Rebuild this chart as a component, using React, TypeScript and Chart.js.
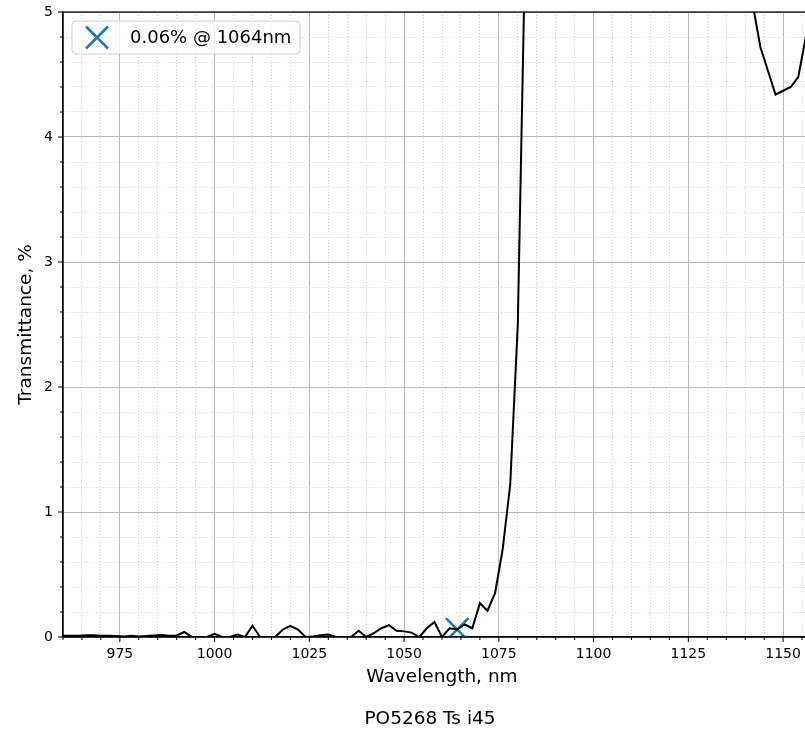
import React, { useEffect, useRef } from 'react';
import { Chart, registerables } from 'chart.js';

Chart.register(...registerables);

// ---- data ----
const wavelengths = [
  960, 962, 964, 966, 968, 970, 972, 974, 976, 978,
  980, 982, 984, 986, 988, 990, 992, 994, 996, 998,
  1000, 1002, 1004, 1006, 1008, 1010, 1012, 1014, 1016, 1018,
  1020, 1022, 1024, 1026, 1028, 1030, 1032, 1034, 1036, 1038,
  1040, 1042, 1044, 1046, 1048, 1050, 1052, 1054, 1056, 1058,
  1060, 1062, 1064, 1066, 1068, 1070, 1072, 1074, 1076, 1078,
  1080, 1082,
  1142, 1144, 1146, 1148, 1150, 1152, 1154, 1156, 1158,
];
const transmittance = [
  0.01, 0.01, 0.01, 0.015, 0.015, 0.01, 0.01, 0.008, 0.005, 0.01,
  0.005, 0.008, 0.012, 0.015, 0.01, 0.012, 0.04, 0.0, 0.0, 0.0,
  0.025, 0.0, 0.0, 0.02, 0.0, 0.09, 0.0, 0.0, 0.0, 0.06,
  0.09, 0.06, 0.0, 0.005, 0.015, 0.02, 0.0, 0.0, 0.0, 0.05,
  0.0, 0.03, 0.07, 0.095, 0.05, 0.045, 0.035, 0.0, 0.07, 0.12,
  0.0, 0.07, 0.06, 0.1, 0.07, 0.27, 0.21, 0.35, 0.7, 1.22,
  2.5, 5.6,
  5.06, 4.72, 4.53, 4.34, 4.37, 4.4, 4.48, 4.8, 5.3,
];
const markerWavelength = [1064];
const markerTransmittance = [0.06];
const xTickLabels = [975, 1000, 1025, 1050, 1075, 1100, 1125, 1150];
const yTickLabels = [0, 1, 2, 3, 4, 5];
const xTitle = 'Wavelength, nm';
const yTitle = 'Transmittance, %';
const figureTitle = 'PO5268 Ts i45';

const FONT = "'DejaVu Sans', 'Liberation Sans', sans-serif";
const MARKER_COLOR = '#1f77b4';

const isMajorX = (v: number) => xTickLabels.includes(Math.round(v)) && Math.abs(v - Math.round(v)) < 1e-6;
const isMajorY = (v: number) => yTickLabels.includes(Math.round(v)) && Math.abs(v - Math.round(v)) < 1e-6;

const zeroPad = (s: any) => {
  s.paddingTop = 0;
  s.paddingBottom = 0;
  s.paddingLeft = 0;
  s.paddingRight = 0;
};

const decorPlugin = {
  id: 'decor',
  afterDraw(chart: any) {
    const { ctx, chartArea: a, scales } = chart;
    const xs = scales.x;
    const ys = scales.y;
    ctx.save();
    // tick marks
    ctx.strokeStyle = '#000';
    ctx.lineWidth = 1;
    for (const t of xs.ticks) {
      const px = xs.getPixelForValue(t.value);
      const len = isMajorX(t.value) ? 5 : 3;
      ctx.beginPath();
      ctx.moveTo(px, a.bottom);
      ctx.lineTo(px, a.bottom + len);
      ctx.stroke();
    }
    for (const t of ys.ticks) {
      const py = ys.getPixelForValue(t.value);
      const len = isMajorY(t.value) ? 5 : 3;
      ctx.beginPath();
      ctx.moveTo(a.left, py);
      ctx.lineTo(a.left - len, py);
      ctx.stroke();
    }
    // frame
    ctx.lineWidth = 1.25;
    ctx.strokeRect(a.left, a.top, a.right - a.left, a.bottom - a.top);

    // legend
    const lx = a.left + 9;
    const ly = a.top + 9;
    const lw = 228;
    const lh = 33;
    ctx.beginPath();
    if (ctx.roundRect) ctx.roundRect(lx, ly, lw, lh, 4);
    else ctx.rect(lx, ly, lw, lh);
    ctx.fillStyle = 'rgba(255,255,255,0.8)';
    ctx.fill();
    ctx.strokeStyle = '#cccccc';
    ctx.lineWidth = 1;
    ctx.stroke();
    const mx = lx + 25;
    const my = ly + lh / 2;
    const h = 11;
    ctx.strokeStyle = MARKER_COLOR;
    ctx.lineWidth = 2.5;
    ctx.beginPath();
    ctx.moveTo(mx - h, my - h);
    ctx.lineTo(mx + h, my + h);
    ctx.moveTo(mx + h, my - h);
    ctx.lineTo(mx - h, my + h);
    ctx.stroke();
    ctx.fillStyle = '#000';
    ctx.font = `18px ${FONT}`;
    ctx.textAlign = 'left';
    ctx.textBaseline = 'middle';
    ctx.fillText(chart.data.datasets[1].label, lx + 58, my + 1);

    // figure title
    ctx.font = `18.5px ${FONT}`;
    ctx.textAlign = 'center';
    ctx.fillText(figureTitle, 430, 719);
    ctx.restore();
  },
};

export default function App() {
  const canvasRef = useRef<HTMLCanvasElement | null>(null);

  useEffect(() => {
    const canvas = canvasRef.current;
    if (!canvas) return;
    const chart = new Chart(canvas, {
      type: 'line',
      data: {
        datasets: [
          {
            label: 'Ts',
            data: wavelengths.map((w, i) => ({ x: w, y: transmittance[i] })),
            borderColor: '#000',
            borderWidth: 2,
            pointRadius: 0,
            tension: 0,
            fill: false,
          },
          {
            label: `${markerTransmittance[0]}% @ ${markerWavelength[0]}nm`,
            data: markerWavelength.map((w, i) => ({ x: w, y: markerTransmittance[i] })),
            showLine: false,
            pointStyle: 'crossRot',
            pointRadius: 16,
            pointBorderWidth: 2.5,
            pointBorderColor: MARKER_COLOR,
            pointBackgroundColor: MARKER_COLOR,
            clip: 0,
          } as any,
        ],
      },
      options: {
        responsive: false,
        animation: false,
        events: [],
        layout: { autoPadding: false, padding: { top: 12, right: 9, left: 0, bottom: 40 } },
        plugins: {
          legend: { display: false },
          title: { display: false },
          tooltip: { enabled: false },
        },
        scales: {
          x: {
            type: 'linear',
            min: 960,
            max: 1160,
            afterFit: (s: any) => { s.height = 52; zeroPad(s); },
            ticks: {
              stepSize: 5,
              autoSkip: false,
              maxRotation: 0,
              padding: 9,
              color: '#000',
              font: { family: FONT, size: 14 },
              callback: (v: any) => (isMajorX(Number(v)) ? String(Math.round(Number(v))) : ''),
            },
            grid: {
              drawTicks: false,
              color: (c: any) => (c.tick && isMajorX(c.tick.value) ? '#b8b8b8' : '#d2d2d2'),
              lineWidth: 1,
            },
            border: {
              display: true,
              color: '#000',
              width: 1.25,
              dash: (c: any) => (c.tick && !isMajorX(c.tick.value) ? [1, 2] : []),
            },
            title: {
              display: true,
              text: xTitle,
              color: '#000',
              font: { family: FONT, size: 18.5 },
              padding: { top: 0, bottom: 1 },
            },
          },
          y: {
            type: 'linear',
            min: 0,
            max: 5,
            afterFit: (s: any) => { s.width = 63; zeroPad(s); },
            ticks: {
              stepSize: 0.2,
              autoSkip: false,
              padding: 10,
              color: '#000',
              font: { family: FONT, size: 14 },
              callback: (v: any) => (isMajorY(Number(v)) ? String(Math.round(Number(v))) : ''),
            },
            grid: {
              drawTicks: false,
              color: (c: any) => (c.tick && isMajorY(c.tick.value) ? '#b8b8b8' : '#d2d2d2'),
              lineWidth: 1,
            },
            border: {
              display: true,
              color: '#000',
              width: 1.25,
              dash: (c: any) => (c.tick && !isMajorY(c.tick.value) ? [1, 2] : []),
            },
            title: {
              display: true,
              text: yTitle,
              color: '#000',
              font: { family: FONT, size: 18.5 },
              padding: { top: 15, bottom: 0 },
            },
          },
        },
      } as any,
      plugins: [decorPlugin],
    });
    return () => chart.destroy();
  }, []);

  return (
    <div
      style={{
        position: 'fixed',
        left: 0,
        top: 0,
        width: 805,
        height: 729,
        overflow: 'hidden',
        background: '#fff',
      }}
    >
      <canvas ref={canvasRef} width={830} height={729} style={{ display: 'block' }} />
    </div>
  );
}
